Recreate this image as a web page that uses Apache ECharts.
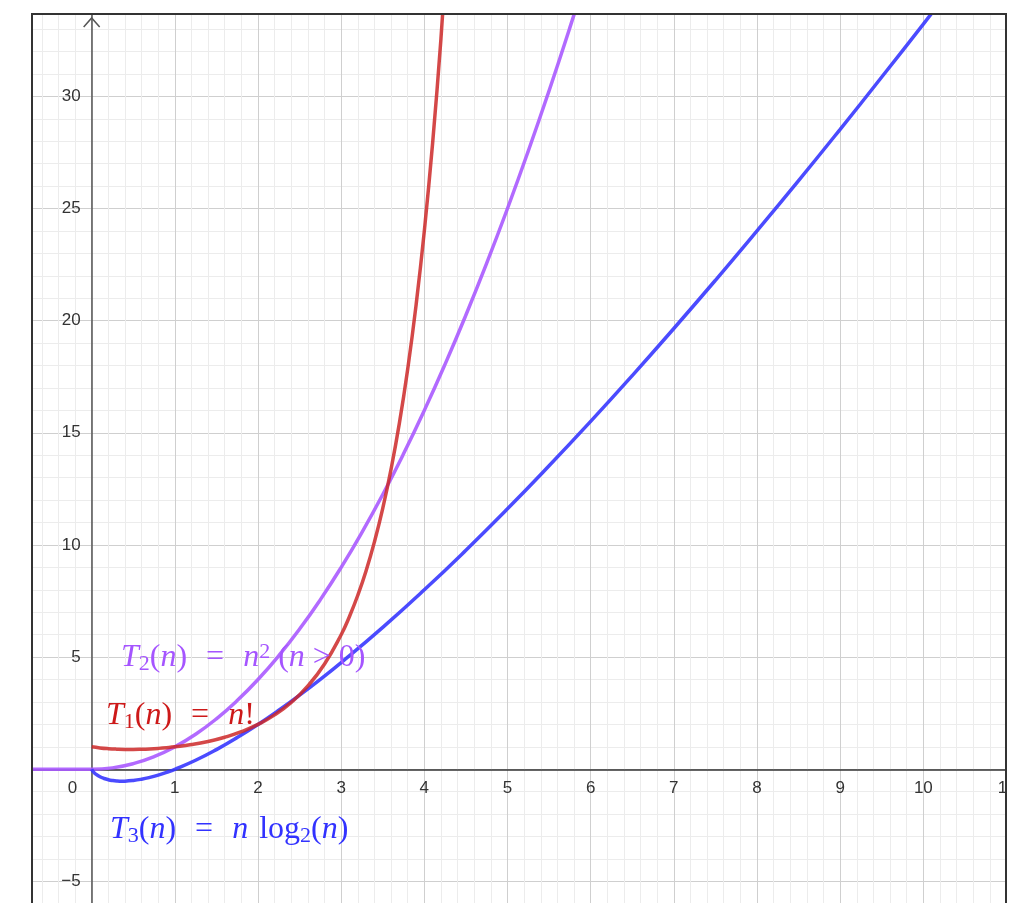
<!DOCTYPE html>
<html>
<head>
<meta charset="utf-8">
<script src="https://cdn.jsdelivr.net/npm/echarts@6/dist/echarts.min.js"></script>
<style>html,body{margin:0;padding:0;background:#fff}#c{width:1020px;height:903px}</style>
</head>
<body>
<div id="c"></div>
<script>
// Axis ranges (visible window)
const xRange = [-1, 11];
const yRange = [-10, 33.67];
const xTickStep = 1;
const yTickStep = 5;

// T1(n) = n!
const t1Factorial = [
  [0,1],[0.1,0.9514],[0.2,0.9182],[0.3,0.8975],[0.4,0.8873],[0.5,0.8862],[0.6,0.8935],
  [0.7,0.9086],[0.8,0.9314],[0.9,0.9618],[1,1],[1.2,1.1018],[1.4,1.2422],[1.6,1.4296],
  [1.8,1.6765],[2,2],[2.2,2.424],[2.4,2.981],[2.6,3.717],[2.8,4.694],[3,6],[3.1,6.813],
  [3.2,7.757],[3.3,8.855],[3.4,10.136],[3.5,11.63],[3.6,13.38],[3.7,15.43],[3.8,17.84],
  [3.9,20.67],[4,24],[4.1,27.93],[4.2,32.58],[4.3,38.08]
];
// T2(n) = n^2 (n > 0)  (purple curve, flat 0 for n < 0)
const t2Square = [
  [-0.72,0],[0,0],[0.25,0.0625],[0.5,0.25],[0.75,0.5625],[1,1],[1.25,1.5625],[1.5,2.25],
  [1.75,3.0625],[2,4],[2.25,5.0625],[2.5,6.25],[2.75,7.5625],[3,9],[3.25,10.5625],[3.5,12.25],
  [3.75,14.0625],[4,16],[4.25,18.0625],[4.5,20.25],[4.75,22.5625],[5,25],[5.25,27.5625],
  [5.5,30.25],[5.75,33.0625],[6,36]
];
// T3(n) = n log2(n)  (blue curve)
const t3NLogN = [
  [0,0],[0.01,-0.0664],[0.02,-0.1129],[0.05,-0.2161],[0.1,-0.3322],[0.15,-0.4105],[0.2,-0.4644],
  [0.25,-0.5],[0.3,-0.5211],[0.368,-0.5307],[0.4,-0.5288],[0.5,-0.5],[0.6,-0.4422],[0.7,-0.3602],
  [0.8,-0.2575],[0.9,-0.1368],[1,0],[1.25,0.4024],[1.5,0.8774],[1.75,1.413],[2,2],[2.25,2.632],
  [2.5,3.305],[2.75,4.013],[3,4.755],[3.5,6.326],[4,8],[4.5,9.765],[5,11.61],[5.5,13.53],
  [6,15.51],[6.5,17.55],[7,19.65],[7.5,21.80],[8,24],[8.5,26.24],[9,28.53],[9.5,30.86],
  [10,33.22],[10.5,35.62]
];

const chart = echarts.init(document.getElementById('c'));
const lbl = {color:'#333', fontSize:17, fontFamily:'Liberation Sans, Arial, sans-serif'};
const serif = 'Liberation Serif, DejaVu Serif, serif';
function mathStyles(color){
  return {
    i:{fontFamily:serif, fontStyle:'italic', fontSize:32, fill:color, lineHeight:34},
    r:{fontFamily:serif, fontSize:32, fill:color, lineHeight:34},
    s:{fontFamily:serif, fontSize:22, fill:color, lineHeight:22, verticalAlign:'bottom'},
    p:{fontFamily:serif, fontSize:22, fill:color, lineHeight:22, verticalAlign:'top'},
    g:{width:19, lineHeight:34},
    h:{width:11, lineHeight:34}
  };
}
const cRed = 'rgba(204,40,40,0.85)', cPurple = 'rgba(170,90,255,0.9)', cBlue = 'rgba(55,55,255,0.9)';
const tRed = 'rgb(205,25,25)', tPurple = 'rgb(165,85,255)', tBlue = 'rgb(50,50,255)';
const isInt = v => Math.abs(v - Math.round(v)) < 1e-9;

const baseOption = {
  animation:false,
  grid:{left:8.5, right:13.5, top:14, bottom:-90.6, show:false, containLabel:false, outerBoundsMode:'none'},
  xAxis:{
    type:'value', min:xRange[0], max:xRange[1], interval:xTickStep,
    axisLine:{onZero:false, lineStyle:{color:'#333', width:1.5}},
    axisTick:{show:false},
    axisLabel:Object.assign({margin:11, formatter:v=> (v===0||!isInt(v))?'':String(v)}, lbl),
    splitLine:{lineStyle:{color:'#cfcfcf', width:1}},
    minorTick:{show:false, splitNumber:5},
    minorSplitLine:{show:true, lineStyle:{color:'#ececec', width:1}}
  },
  yAxis:{
    type:'value', min:yRange[0], max:yRange[1], interval:yTickStep,
    axisLine:{onZero:false, lineStyle:{color:'#555', width:1.5}},
    axisTick:{show:false},
    axisLabel:Object.assign({margin:11, showMaxLabel:false,
      formatter:v=> (v===0||!isInt(v))?'':String(v).replace('-','\u2212')}, lbl),
    splitLine:{lineStyle:{color:'#cfcfcf', width:1}},
    minorTick:{show:false, splitNumber:5},
    minorSplitLine:{show:true, lineStyle:{color:'#ececec', width:1}}
  },
  series:[
    {type:'line', data:t2Square, smooth:true, showSymbol:false, z:3,
     lineStyle:{color:cPurple, width:3.5}},
    {type:'line', data:t3NLogN, smooth:true, showSymbol:false, z:4,
     lineStyle:{color:cBlue, width:3.5}},
    {type:'line', data:t1Factorial, smooth:true, showSymbol:false, z:5,
     lineStyle:{color:cRed, width:3.5}}
  ]
};
chart.setOption(baseOption);

// move the axes onto the origin using pixel offsets derived from the scales
const origin = chart.convertToPixel({gridIndex:0},[0,0]);
const minCorner = chart.convertToPixel({gridIndex:0},[xRange[0], yRange[0]]);
const axTop = chart.convertToPixel({gridIndex:0},[0, yRange[1]]);
chart.setOption({
  xAxis:{offset: -(minCorner[1]-origin[1])},
  yAxis:{offset: -(origin[0]-minCorner[0])},
  graphic:[
    {type:'rect', z:100, shape:{x:0,y:0,width:32,height:903}, style:{fill:'#fff'}},
    {type:'rect', z:100, shape:{x:0,y:0,width:1020,height:14}, style:{fill:'#fff'}},
    {type:'rect', z:100, shape:{x:1007,y:0,width:13,height:903}, style:{fill:'#fff'}},
    {type:'rect', z:101, shape:{x:32,y:14,width:974,height:900}, style:{fill:null, stroke:'#333', lineWidth:2}},
    {type:'polyline', z:101, shape:{points:[[axTop[0]-8,axTop[1]+13],[axTop[0],axTop[1]+4],[axTop[0]+8,axTop[1]+13]]}, style:{stroke:'#555', lineWidth:1.5, fill:null}},
    {type:'text', z:102, x:origin[0]-24, y:origin[1]+11, style:{text:'0', font:'17px "Liberation Sans", Arial', fill:'#333'}},
    {type:'text', z:102, left:121, top:641, style:{
      text:'{i|T}{s|2}{r|(}{i|n}{r|)}{g|}{r|=}{g|}{i|n}{p|2}{r| (}{i|n}{r| > 0)}', rich:mathStyles(tPurple)}},
    {type:'text', z:102, left:106, top:700, style:{
      text:'{i|T}{s|1}{r|(}{i|n}{r|)}{g|}{r|=}{g|}{i|n}{r|!}', rich:mathStyles(tRed)}},
    {type:'text', z:102, left:110, top:814, style:{
      text:'{i|T}{s|3}{r|(}{i|n}{r|)}{g|}{r|=}{g|}{i|n}{h|}{r|log}{s|2}{r|(}{i|n}{r|)}', rich:mathStyles(tBlue)}}
  ]
});
</script>
</body>
</html>
